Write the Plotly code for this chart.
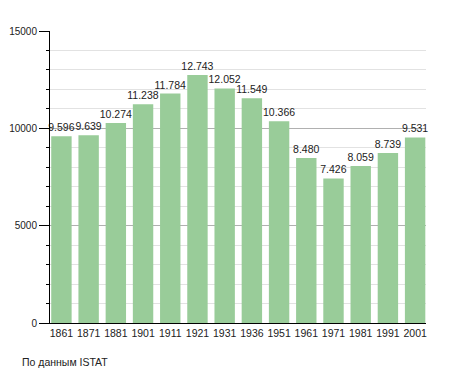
import plotly.graph_objects as go

years = ["1861", "1871", "1881", "1901", "1911", "1921", "1931", "1936",
         "1951", "1961", "1971", "1981", "1991", "2001"]
population = [9596, 9639, 10274, 11238, 11784, 12743, 12052, 11549,
              10366, 8480, 7426, 8059, 8739, 9531]
labels = ["9.596", "9.639", "10.274", "11.238", "11.784", "12.743", "12.052",
          "11.549", "10.366", "8.480", "7.426", "8.059", "8.739", "9.531"]
y_ticks = [0, 5000, 10000, 15000]
y_tick_text = ["0", "5000", "10000", "15000"]
source_note = "По данным ISTAT"

FONT = "Liberation Sans, Arial, sans-serif"
x_idx = list(range(len(years)))

fig = go.Figure()
fig.add_trace(go.Bar(
    x=x_idx, y=population, text=labels, textposition="outside",
    constraintext="none", cliponaxis=False,
    textfont=dict(family=FONT, size=10.5, color="#222"),
    marker=dict(color="#99cc99", line=dict(width=0)),
    width=0.75, hoverinfo="skip",
))

# page body has an 8px margin, so the figure is 8px smaller than the window
fig.update_layout(
    width=447, height=365,
    margin=dict(l=42, r=29, t=23, b=50, autoexpand=False),
    paper_bgcolor="white", plot_bgcolor="white",
    showlegend=False,
    font=dict(family=FONT, size=10, color="#222"),
    annotations=[dict(
        text=source_note, xref="paper", yref="paper",
        x=-30 / 376, y=(323 - 362) / 292, xanchor="left", yanchor="middle",
        showarrow=False, font=dict(family=FONT, size=10.5, color="#222"),
    )],
)
fig.update_xaxes(
    tickmode="array", tickvals=x_idx, ticktext=years,
    range=[-0.42, 13.4], showgrid=False, showline=True,
    linecolor="black", linewidth=1, ticks="", zeroline=False,
    automargin=False,
    tickfont=dict(family=FONT, size=10.5, color="#222"),
)
fig.update_yaxes(
    range=[0, 15000], tickmode="array", tickvals=y_ticks, ticktext=y_tick_text,
    showgrid=True, gridcolor="#b0b0b0", gridwidth=1,
    showline=True, linecolor="black", linewidth=1,
    ticks="outside", ticklen=10, tickcolor="black",
    zeroline=False, automargin=False,
    tickfont=dict(family=FONT, size=10, color="#222"),
    minor=dict(dtick=1000, showgrid=True, gridcolor="#e2e2e2",
               ticks="outside", ticklen=3, tickcolor="black"),
)

fig.write_html("out.html")
